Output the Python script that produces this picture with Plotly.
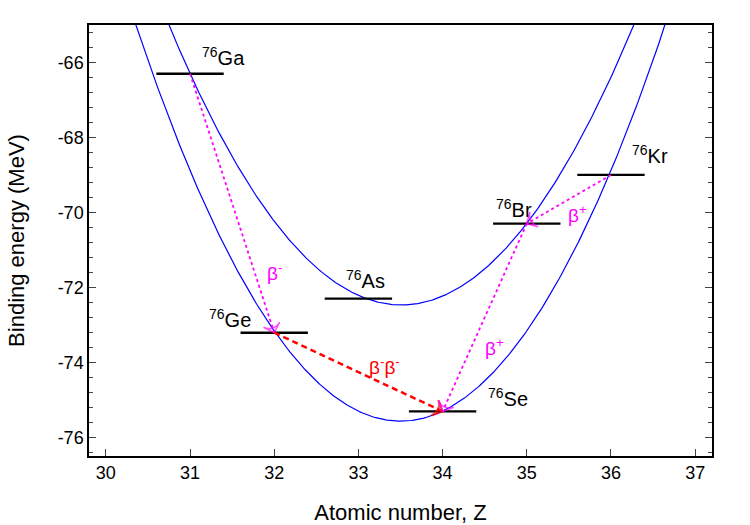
import numpy as np
import plotly.graph_objects as go

# Nuclide levels (Z, binding energy MeV)
nuclides = ["Ga", "Ge", "As", "Se", "Br", "Kr"]
mass_number = 76
Z_vals = [31, 32, 33, 34, 35, 36]
E_vals = [-66.3, -73.21, -72.3, -75.31, -70.3, -69.0]
level_half_width = 0.4

# label positions (Z, E)
label_Z = [31.40, 31.47, 33.08, 34.78, 34.85, 36.46]
label_E = [-65.84, -72.84, -71.78, -74.94, -69.90, -68.46]

# parabolas: E = a*(Z - z0)^2 + c  (odd-odd upper, even-even lower)
odd_odd = dict(a=0.98, z0=33.51, c=-72.47)
even_even = dict(a=1.07, z0=33.5, c=-75.57)

# decays: (from index, to index, colour, dash, label, labelZ, labelE)
decays = [
    (0, 1, "#ff00ff", "dot", "β<sup>-</sup>", 32.0, -71.6),
    (1, 3, "#ff0000", "6px,4px", "β<sup>-</sup>β<sup>-</sup>", 33.31, -74.1),
    (4, 3, "#ff00ff", "dot", "β<sup>+</sup>", 34.62, -73.58),
    (5, 4, "#ff00ff", "dot", "β<sup>+</sup>", 35.6, -70.05),
]

x_range = [29.8, 37.2]
y_range = [-76.5, -65.0]
x_ticks = [30, 31, 32, 33, 34, 35, 36, 37]
y_ticks = [-76, -74, -72, -70, -68, -66]
y_tick_text = ["-76", "-74", "-72", "-70", "-68", "-66"]

FONT = "Liberation Sans, Arial, Helvetica, sans-serif"

fig = go.Figure()

zz = np.linspace(29.0, 38.0, 600)
for p in (odd_odd, even_even):
    fig.add_trace(go.Scatter(x=zz, y=p["a"] * (zz - p["z0"]) ** 2 + p["c"],
                             mode="lines", line=dict(color="#0000ff", width=1.2),
                             hoverinfo="skip", showlegend=False))

for z, e in zip(Z_vals, E_vals):
    fig.add_trace(go.Scatter(x=[z - level_half_width, z + level_half_width], y=[e, e],
                             mode="lines", line=dict(color="black", width=2.4),
                             hoverinfo="skip", showlegend=False))

for i0, i1, col, dash, txt, lz, le in decays:
    red = col == "#ff0000"
    fig.add_trace(go.Scatter(x=[Z_vals[i0], Z_vals[i1]], y=[E_vals[i0], E_vals[i1]],
                             mode="lines+markers",
                             line=dict(color=col, width=2.5 if red else 1.8, dash=dash),
                             marker=dict(symbol=["circle", "arrow-wide-open"], size=[0.1, 12],
                                         angleref="previous", color=col,
                                         line=dict(color=col, width=2.2 if red else 1.6)),
                             hoverinfo="skip", showlegend=False))
    fig.add_annotation(x=lz, y=le, text=txt, showarrow=False,
                       font=dict(family=FONT, size=19, color=col))

for name, lz, le in zip(nuclides, label_Z, label_E):
    fig.add_annotation(x=lz, y=le, text=f"<sup>{mass_number}</sup>{name}", showarrow=False,
                       font=dict(family=FONT, size=20, color="black"))

fig.update_layout(
    width=750, height=525,
    margin=dict(l=89, r=38, t=25, b=69, autoexpand=False),
    plot_bgcolor="white", paper_bgcolor="white",
    font=dict(family=FONT, size=18, color="black"),
    showlegend=False,
)
fig.update_xaxes(range=x_range, tickvals=x_ticks, ticks="inside", ticklen=7,
                 showgrid=False, zeroline=False, showline=True, linecolor="black",
                 linewidth=1.5, mirror=True, automargin=False,
                 title=dict(text="Atomic number, Z", standoff=22),
                 tickfont=dict(size=18))
fig.update_yaxes(range=y_range, tickvals=y_ticks, ticktext=y_tick_text,
                 ticks="inside", ticklen=7,
                 showgrid=False, zeroline=False, showline=True, linecolor="black",
                 linewidth=1.5, mirror="ticks", automargin=False,
                 minor=dict(dtick=0.4, tick0=-76, ticks="inside", ticklen=4),
                 title=dict(text="Binding energy (MeV)", standoff=27),
                 tickfont=dict(size=18))

fig.write_html("out.html")
